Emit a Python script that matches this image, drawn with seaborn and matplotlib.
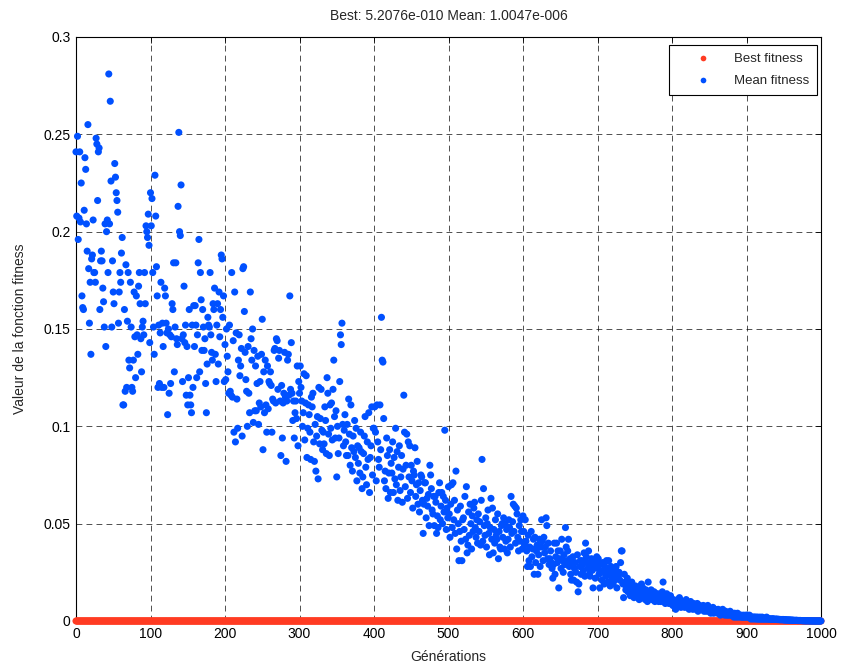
import numpy as np
import pandas as pd
import matplotlib
matplotlib.use("Agg")
import matplotlib.pyplot as plt
import seaborn as sns

# ---------------- data ----------------
title_text = "Best: 5.2076e-010 Mean: 1.0047e-006"
x_label = "Générations"
y_label = "Valeur de la fonction fitness"
series_names = ["Best fitness", "Mean fitness"]
x_ticks = [0, 100, 200, 300, 400, 500, 600, 700, 800, 900, 1000]
y_ticks = [0, 0.05, 0.1, 0.15, 0.2, 0.25, 0.3]
y_tick_labels = ["0", "0.05", "0.1", "0.15", "0.2", "0.25", "0.3"]

# mean fitness per generation (generation 0 .. 1000), 20 values per row
mean_fitness = [
    .241, .208, .249, .196, .207, .241, .205, .225, .167, .161, .160, .211, .238, .232, .204, .190, .255, .181, .153, .174,
    .137, .186, .188, .206, .179, .179, .174, .248, .245, .216, .241, .243, .160, .185, .190, .185, .171, .164, .151, .204,
    .141, .200, .206, .179, .281, .204, .267, .226, .151, .185, .169, .163, .235, .228, .220, .216, .210, .153, .169, .179,
    .174, .189, .197, .111, .111, .160, .118, .183, .120, .154, .179, .134, .130, .174, .151, .120, .118, .134, .169, .146,
    .125, .167, .147, .137, .172, .179, .163, .145, .128, .151, .154, .147, .179, .163, .203, .200, .197, .209, .193, .143,
    .220, .203, .217, .179, .151, .137, .229, .208, .182, .167, .120, .152, .122, .148, .174, .120, .153, .141, .120, .171,
    .167, .153, .148, .106, .150, .117, .147, .122, .146, .163, .160, .184, .128, .151, .184, .145, .142, .213, .251, .200,
    .198, .224, .145, .123, .147, .172, .143, .152, .116, .141, .111, .125, .160, .116, .111, .107, .152, .120, .162, .141,
    .162, .152, .125, .147, .184, .196, .128, .179, .165, .139, .160, .151, .139, .145, .122, .107, .132, .156, .152, .151,
    .179, .147, .138, .134, .163, .160, .171, .137, .123, .152, .163, .132, .169, .146, .160, .188, .186, .156, .167, .123,
    .142, .124, .150, .136, .128, .117, .152, .118, .116, .179, .115, .144, .097, .169, .092, .148, .114, .099, .134, .147,
    .126, .131, .140, .095, .181, .182, .159, .138, .124, .118, .100, .141, .117, .107, .169, .145, .134, .150, .102, .139,
    .108, .131, .108, .122, .136, .101, .112, .123, .110, .137, .155, .088, .128, .107, .134, .111, .097, .131, .109, .123,
    .122, .128, .121, .097, .114, .113, .139, .140, .112, .145, .144, .119, .135, .139, .113, .085, .121, .094, .112, .117,
    .138, .115, .082, .113, .134, .137, .116, .167, .119, .143, .117, .103, .113, .094, .107, .113, .104, .131, .090, .123,
    .117, .131, .120, .113, .100, .107, .127, .093, .112, .126, .084, .099, .111, .106, .097, .083, .115, .110, .117, .092,
    .082, .101, .077, .095, .105, .073, .120, .091, .104, .119, .098, .088, .097, .091, .110, .103, .086, .125, .117, .096,
    .085, .111, .099, .112, .093, .119, .134, .105, .094, .108, .074, .100, .086, .094, .123, .147, .142, .153, .101, .090,
    .098, .106, .092, .085, .101, .085, .114, .096, .080, .111, .089, .077, .095, .087, .103, .084, .099, .072, .090, .081,
    .089, .076, .097, .087, .068, .074, .086, .095, .105, .079, .070, .092, .083, .107, .066, .084, .090, .110, .075, .099,
    .099, .110, .097, .072, .111, .092, .083, .079, .111, .088, .156, .134, .133, .104, .072, .077, .068, .094, .085, .063,
    .076, .088, .066, .081, .076, .092, .066, .084, .073, .099, .070, .087, .062, .079, .090, .067, .074, .085, .061, .078,
    .116, .097, .069, .080, .096, .063, .092, .074, .090, .066, .080, .072, .058, .077, .075, .089, .064, .070, .082, .060,
    .071, .056, .067, .075, .074, .062, .045, .060, .071, .071, .053, .063, .059, .065, .049, .080, .075, .068, .057, .055,
    .064, .049, .064, .061, .045, .054, .048, .066, .071, .052, .059, .066, .050, .064, .056, .098, .062, .047, .058, .053,
    .069, .055, .043, .060, .070, .048, .071, .052, .062, .045, .077, .037, .057, .050, .031, .046, .059, .041, .031, .052,
    .053, .047, .064, .042, .069, .035, .039, .056, .044, .060, .050, .037, .054, .046, .058, .061, .048, .043, .052, .040,
    .055, .046, .051, .039, .062, .083, .041, .068, .049, .044, .053, .038, .050, .057, .045, .034, .048, .063, .042, .058,
    .035, .047, .040, .052, .044, .042, .055, .032, .046, .038, .037, .049, .050, .043, .053, .037, .050, .041, .047, .035,
    .042, .052, .048, .038, .064, .045, .051, .060, .046, .059, .040, .058, .055, .043, .036, .049, .041, .052, .046, .037,
    .054, .046, .039, .052, .041, .036, .028, .044, .031, .038, .028, .046, .033, .037, .042, .024, .043, .030, .036, .039,
    .024, .034, .042, .028, .038, .052, .041, .031, .043, .035, .038, .053, .049, .032, .040, .029, .032, .036, .030, .027,
    .022, .029, .040, .024, .033, .040, .030, .036, .017, .032, .036, .027, .042, .031, .025, .034, .029, .048, .038, .031,
    .036, .042, .028, .032, .024, .021, .030, .033, .021, .027, .030, .025, .020, .034, .015, .019, .028, .031, .024, .031,
    .029, .026, .035, .023, .040, .033, .030, .027, .036, .024, .023, .029, .032, .026, .017, .031, .028, .022, .030, .033,
    .027, .032, .024, .017, .029, .025, .021, .030, .026, .019, .028, .023, .031, .026, .020, .031, .024, .018, .028, .022,
    .026, .019, .024, .021, .027, .028, .017, .022, .023, .025, .021, .030, .036, .036, .019, .012, .024, .020, .016, .017,
    .022, .015, .016, .019, .013, .014, .020, .0185, .015, .012, .016, .018, .0125, .014, .017, .016, .011, .013, .015, .019,
    .014, .017, .012, .015, .011, .016, .013, .010, .020, .014, .015, .012, .016, .011, .013, .0125, .015, .010, .014, .012,
    .012, .014, .010, .013, .011, .010, .013, .015, .020, .011, .0125, .009, .012, .014, .010, .012, .009, .011, .013, .010,
    .010, .008, .011, .009, .007, .006, .010, .008, .011, .009, .012, .008, .007, .010, .009, .010, .008, .007, .009, .011,
    .008, .007, .009, .006, .008, .010, .007, .008, .006, .009, .0074, .008, .006, .007, .009, .005, .007, .008, .006, .007,
    .007, .006, .008, .005, .006, .007, .005, .006, .008, .005, .0057, .006, .004, .006, .005, .007, .004, .005, .006, .005,
    .005, .004, .006, .004, .005, .003, .005, .004, .006, .004, .004, .003, .005, .004, .003, .004, .003, .004, .005, .003,
    .003, .004, .003, .002, .004, .003, .002, .003, .004, .002, .0025, .003, .002, .003, .002, .002, .003, .002, .002, .003,
    .002, .003, .002, .002, .003, .002, .001, .002, .002, .001, .002, .002, .001, .002, .001, .002, .001, .001, .002, .001,
    .001, .002, .001, .001, .0015, .001, .001, .002, .001, .001, .001, .0012, .001, .0008, .001, .0012, .0009, .001, .0008, .001,
    .0008, .001, .0007, .0009, .0008, .0006, .0008, .0007, .0006, .0008, .0006, .0005, .0007, .0005, .0006, .0005, .0004, .0006, .0005, .0004,
    .0004, .0005, .0004, .0003, .0004, .0003, .0003, .0004, .0003, .0002, .0003, .0002, .0003, .0002, .0002, .0002, .0001, .0002, .0001, .0001,
    .0001, .0001, .0001, .0001, .0001, .00005, .00005, .00005, .00004, .00003, .00003, .00002, .00002, .00002, .00001, .00001, .00001, .00001, .00001, .00001,
    .000001,
]

generations = list(range(len(mean_fitness)))
# best fitness reads as 0 at every generation on this scale (final 5.2e-10)
best_fitness = [0.0] * len(generations)

# ---------------- build long table ----------------
df = pd.DataFrame({
    "Génération": generations + generations,
    "Fitness": best_fitness + mean_fitness,
    "Série": [series_names[0]] * len(generations) + [series_names[1]] * len(generations),
})

sns.set_theme(style="white")
plt.rcParams["font.family"] = ["Liberation Sans", "DejaVu Sans"]

fig = plt.figure(figsize=(8.43, 6.66), dpi=100)
fig.patch.set_facecolor("white")
ax = fig.add_axes([76 / 843, 45 / 666, 745 / 843, 584 / 666])
ax.set_facecolor("white")

palette = {series_names[0]: "#FF3B22", series_names[1]: "#0050FF"}
sns.scatterplot(data=df, x="Génération", y="Fitness", hue="Série",
                hue_order=series_names, palette=palette, s=26,
                linewidth=0, edgecolor="none", ax=ax, legend=True,
                zorder=3, clip_on=False)

ax.set_xlim(0, 1000)
ax.set_ylim(0, 0.3)
ax.set_xticks(x_ticks)
ax.set_xticklabels([str(t) for t in x_ticks])
ax.set_yticks(y_ticks)
ax.set_yticklabels(y_tick_labels)

ax.grid(True, color="black", linestyle=(0, (7, 5)), linewidth=0.6, alpha=0.8)
ax.set_axisbelow(True)

for sp in ax.spines.values():
    sp.set_visible(True)
    sp.set_color("black")
    sp.set_linewidth(0.8)
    sp.set_zorder(2)

ax.tick_params(direction="in", length=4, width=0.6, top=True, right=True,
               labelsize=10, colors="black", pad=4)

ax.set_xlabel(x_label, fontsize=10, labelpad=7)
ax.set_ylabel(y_label, fontsize=10, labelpad=12)
ax.set_title(title_text, fontsize=10, pad=12)

leg = ax.legend(loc="upper right", bbox_to_anchor=(0.9946, 0.9863),
                frameon=True, fancybox=False, shadow=False, fontsize=9.5,
                markerscale=0.8, borderpad=0.6, handlelength=4.0,
                handletextpad=0.3, labelspacing=0.75, borderaxespad=0.0)
leg.get_frame().set_edgecolor("black")
leg.get_frame().set_linewidth(0.8)
leg.get_frame().set_facecolor("white")
leg.get_frame().set_alpha(1.0)
leg.set_zorder(5)

fig.savefig("out.png", dpi=100, facecolor="white")
